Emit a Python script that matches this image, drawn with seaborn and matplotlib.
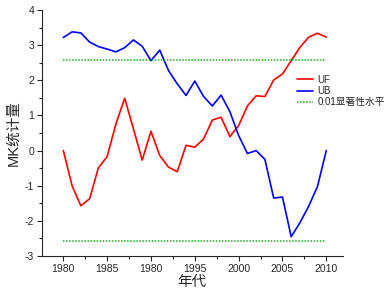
import matplotlib
matplotlib.use("Agg")
import matplotlib.pyplot as plt
from matplotlib.ticker import MultipleLocator
import pandas as pd
import seaborn as sns

years = list(range(1980, 2011))
uf = [0.00, -1.00, -1.57, -1.37, -0.49, -0.17, 0.76, 1.49, 0.62, -0.27,
      0.55, -0.14, -0.47, -0.60, 0.15, 0.10, 0.33, 0.87, 0.95, 0.40,
      0.71, 1.27, 1.56, 1.54, 2.01, 2.18, 2.56, 2.94, 3.23, 3.34, 3.23]
ub = [3.22, 3.38, 3.35, 3.09, 2.96, 2.89, 2.81, 2.93, 3.15, 2.97,
      2.56, 2.86, 2.28, 1.90, 1.57, 1.98, 1.54, 1.27, 1.58, 1.11,
      0.43, -0.08, 0.00, -0.25, -1.35, -1.32, -2.45, -2.05, -1.58, -1.02, 0.00]
sig_level = 2.58
xtick_pos = [1980, 1985, 1990, 1995, 2000, 2005, 2010]
xtick_labels = ["1980", "1985", "1980", "1995", "2000", "2005", "2010"]

sns.set_style("ticks")
plt.rcParams["font.family"] = ["Liberation Sans", "Noto Sans CJK SC", "DejaVu Sans"]
plt.rcParams["axes.unicode_minus"] = False

df = pd.DataFrame({"year": years, "UF": uf, "UB": ub})
long = df.melt(id_vars="year", var_name="series", value_name="value")

fig = plt.figure(figsize=(3.84, 2.96), dpi=100)
ax = fig.add_axes([0.109, 0.135, 0.784, 0.831])

sns.lineplot(data=long, x="year", y="value", hue="series",
             palette={"UF": "#ff0000", "UB": "#0000ff"},
             linewidth=1.2, ax=ax)
for lvl in (sig_level, -sig_level):
    ax.plot([years[0], years[-1]], [lvl, lvl], color="#22aa22",
            linestyle=(0, (1, 1)), linewidth=1.1,
            label="0.01显著性水平" if lvl > 0 else None)

ax.set_xlim(1977.55, 2011.9)
ax.set_ylim(-3, 4)
ax.set_xticks(xtick_pos)
ax.set_xticklabels(xtick_labels)
ax.xaxis.set_minor_locator(MultipleLocator(2.5))
ax.yaxis.set_major_locator(MultipleLocator(1))
ax.yaxis.set_minor_locator(MultipleLocator(0.5))
ax.tick_params(which="major", direction="out", length=3.5, width=0.8, labelsize=7.5, pad=2)
ax.tick_params(which="minor", direction="out", length=2, width=0.8)
ax.set_xlabel("年代", fontsize=10.5, labelpad=1)
ax.set_ylabel("MK统计量", fontsize=10.5, labelpad=3)
sns.despine(ax=ax)
for s in ("left", "bottom"):
    ax.spines[s].set_linewidth(0.8)

ax.legend(loc="upper left", bbox_to_anchor=(0.847, 0.738), frameon=False,
          fontsize=7, handlelength=1.7, handletextpad=0.4,
          labelspacing=0.15, borderpad=0, borderaxespad=0)

fig.savefig("out.png", dpi=100)
